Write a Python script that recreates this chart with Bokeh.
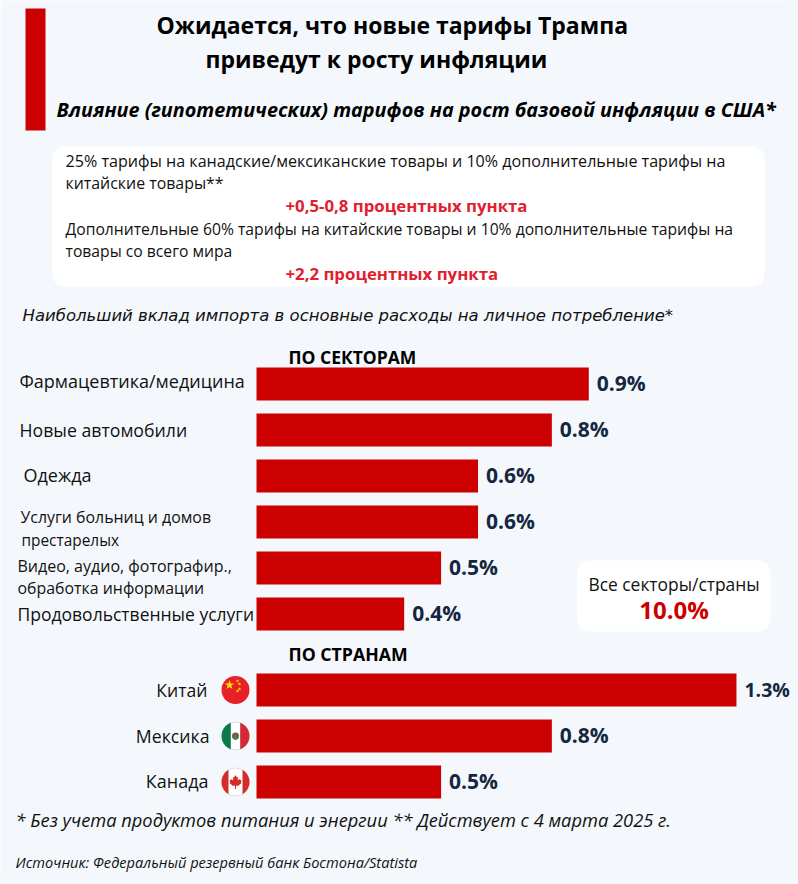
import math
from bokeh.plotting import figure
from bokeh.models import Range1d, BoxAnnotation
from bokeh.core.properties import value
from bokeh.embed import file_html
from bokeh.resources import INLINE

# ---- data ----
sectors = ["Фармацевтика/медицина", "Новые автомобили", "Одежда",
           "Услуги больниц и домов престарелых",
           "Видео, аудио, фотографир., обработка информации",
           "Продовольственные услуги"]
sector_values = [0.9, 0.8, 0.6, 0.6, 0.5, 0.4]
countries = ["Китай", "Мексика", "Канада"]
country_values = [1.3, 0.8, 0.5]
total_label = "Все секторы/страны"
total_value = "10.0%"

# ---- layout ----
BG, RED, NAVY, PINK = "#f4f8fc", "#cc0000", "#14273f", "#e0202f"
M, W, H = 0, 790, 876
PX_PER_PCT, X0 = 369.2, 256
BAR_H, STEP, Y_SEC, Y_CTR = 33, 46, 383.5, 689.5

p = figure(width=W, height=H, output_backend="svg", toolbar_location=None,
           x_range=Range1d((M - X0) / PX_PER_PCT, (M + W - X0) / PX_PER_PCT),
           y_range=Range1d(M + H, M), min_border=0, background_fill_color=BG,
           border_fill_color=BG, outline_line_color=None,
           x_axis_type=None, y_axis_type=None)
p.grid.visible = False
p.styles = {"box-shadow": f"0 0 0 8px {BG}"}
p.extra_x_ranges["px"] = Range1d(M, M + W)

def box(l, r, t, b, color, radius=0):
    p.add_layout(BoxAnnotation(left=l, right=r, top=t, bottom=b, x_range_name="px",
                               fill_color=color, fill_alpha=1, line_alpha=0,
                               border_radius=radius, level="underlay"))

def T(x, y, s, size, font="Open Sans", style="normal", color="#111111", align="left"):
    p.text(x=[x], y=[y - 1], text=[s], x_range_name="px", text_font=value(font),
           text_font_size=f"{size}px", text_font_style=style, text_color=color,
           text_align=align, text_baseline="middle")

box(25, 45, 8, 130, RED)
box(52, 764, 146, 286, "#ffffff", 12)
box(577, 770, 560, 631, "#ffffff", 12)

T(156, 25, "Ожидается, что новые тарифы Трампа", 23, style="bold", color="#000000")
T(205, 59, "приведут к росту инфляции", 23, style="bold", color="#000000")
T(56, 110, "Влияние (гипотетических) тарифов на рост базовой инфляции в США*", 19.8, style="bold italic", color="#000000")

T(65, 161, "25% тарифы на канадские/мексиканские товары и 10% дополнительные тарифы на", 16.1)
T(65, 183, "китайские товары**", 15.9)
T(285, 206, "+0,5-0,8 процентных пункта", 16.8, style="bold", color=PINK)
T(65, 229, "Дополнительные 60% тарифы на китайские товары и 10% дополнительные тарифы на", 15.7)
T(65, 251, "товары со всего мира", 15.7)
T(285, 274, "+2,2 процентных пункта", 16.8, style="bold", color=PINK)
T(22, 316, "Наибольший вклад импорта в основные расходы на личное потребление*", 16.5, style="italic", font="DejaVu Sans")
T(288, 357, "ПО СЕКТОРАМ", 17.5, style="bold", color="#000000")
T(288, 654, "ПО СТРАНАМ", 17.7, style="bold", color="#000000")

sec_y = [Y_SEC + i * STEP for i in range(len(sectors))]
ctr_y = [Y_CTR + i * STEP for i in range(len(countries))]
p.hbar(y=sec_y + ctr_y, left=0, right=sector_values + country_values, height=BAR_H,
       fill_color=RED, line_color=None)
all_values = sector_values + country_values
all_y = sec_y + ctr_y
# every label but the longest bar's, which has less room before the edge
rest = [i for i, v in enumerate(all_values) if v != max(all_values)]
top = [i for i, v in enumerate(all_values) if v == max(all_values)]
p.text(x=[all_values[i] for i in rest], y=[all_y[i] for i in rest],
       text=[f"{all_values[i]:.1f}%" for i in rest],
       x_offset=8, y_offset=-1, text_font=value("Open Sans"), text_font_style="bold", text_font_size="21px",
       text_color=NAVY, text_align="left", text_baseline="middle")
p.text(x=[all_values[i] for i in top], y=[all_y[i] for i in top],
       text=[f"{all_values[i]:.1f}%" for i in top],
       x_offset=8, y_offset=-1, text_font=value("Open Sans"), text_font_style="bold", text_font_size="19.5px",
       text_color=NAVY, text_align="left", text_baseline="middle")

T(19, 381.5, sectors[0], 18)
T(19, 430, sectors[1], 17.7)
T(23, 475, sectors[2], 18)
T(20, 517, "Услуги больниц и домов", 15.9)
T(21, 541, "престарелых", 15.4)
T(17, 566, "Видео, аудио, фотографир.,", 16)
T(17, 588, "обработка информации", 15.9)
T(17, 614, sectors[5], 17.5)

T(207, 690, countries[0], 17.6, align="right")
T(209, 736, countries[1], 17.7, align="right")
T(208, 781, countries[2], 18, align="right")

T(673.5, 584, total_label, 17.4, align="center")
T(673.5, 610, total_value, 24, style="bold", color=RED, align="center")

T(15, 820, "* Без учета продуктов питания и энергии ** Действует с 4 марта 2025 г.", 18.3, style="italic")
T(15, 862, "Источник: Федеральный резервный банк Бостона/Statista", 14.6, style="italic")

# flags
FX, FR = 235, 14
def segment(cx, cy, r, x1, x2, color):
    xs, ys = [], []
    n = 24
    for i in range(n + 1):
        x = x1 + (x2 - x1) * i / n
        xs.append(cx + x); ys.append(cy - math.sqrt(max(r * r - x * x, 0)))
    for i in range(n + 1):
        x = x2 + (x1 - x2) * i / n
        xs.append(cx + x); ys.append(cy + math.sqrt(max(r * r - x * x, 0)))
    p.patch(xs, ys, x_range_name="px", fill_color=color, line_color=None)

def disc(cy, color, line=None):
    p.scatter([FX], [cy], x_range_name="px", marker="circle", size=2 * FR, fill_color=color,
              line_color=line)

cn, mx, ca = ctr_y
disc(cn, "#e8202a")
p.scatter([FX - 6], [cn - 5], x_range_name="px", marker="star", size=10, fill_color="#ffe000", line_color=None)
p.scatter([FX + 2, FX + 4, FX + 4, FX + 2], [cn - 9, cn - 6, cn - 1, cn + 1], x_range_name="px",
          marker="star", size=4, fill_color="#ffe000", line_color=None)

disc(mx, "#ffffff", "#dddddd")
segment(FX, mx, FR, -FR, -4.7, "#0a7a4b")
segment(FX, mx, FR, 4.7, FR, "#cf2a35")
p.scatter([FX], [mx], x_range_name="px", marker="circle", size=7, fill_color="#7a5a3a", line_color=None)
p.scatter([FX], [mx + 2], x_range_name="px", marker="circle", size=4, fill_color="#3f8a4a", line_color=None)

disc(ca, "#ffffff", "#dddddd")
segment(FX, ca, FR, -FR, -7, "#d52b2b")
segment(FX, ca, FR, 7, FR, "#d52b2b")
leaf_x = [0, 1.5, 2.5, 2.2, 4, 4.6, 6, 5.4, 6, 2.5, 0.5, 0.5, -0.5, -0.5, -2.5, -6, -5.4, -6, -4.6, -4, -2.2, -2.5, -1.5]
leaf_y = [-7, -4.5, -5, -1.5, -3, -2, -2, 0, 1, 4, 3.6, 7, 7, 3.6, 4, 1, 0, -2, -2, -3, -1.5, -5, -4.5]
p.patch([FX + v for v in leaf_x], [ca + v for v in leaf_y], x_range_name="px",
        fill_color="#d52b2b", line_color=None)

open("out.html", "w").write(file_html(p, INLINE))
